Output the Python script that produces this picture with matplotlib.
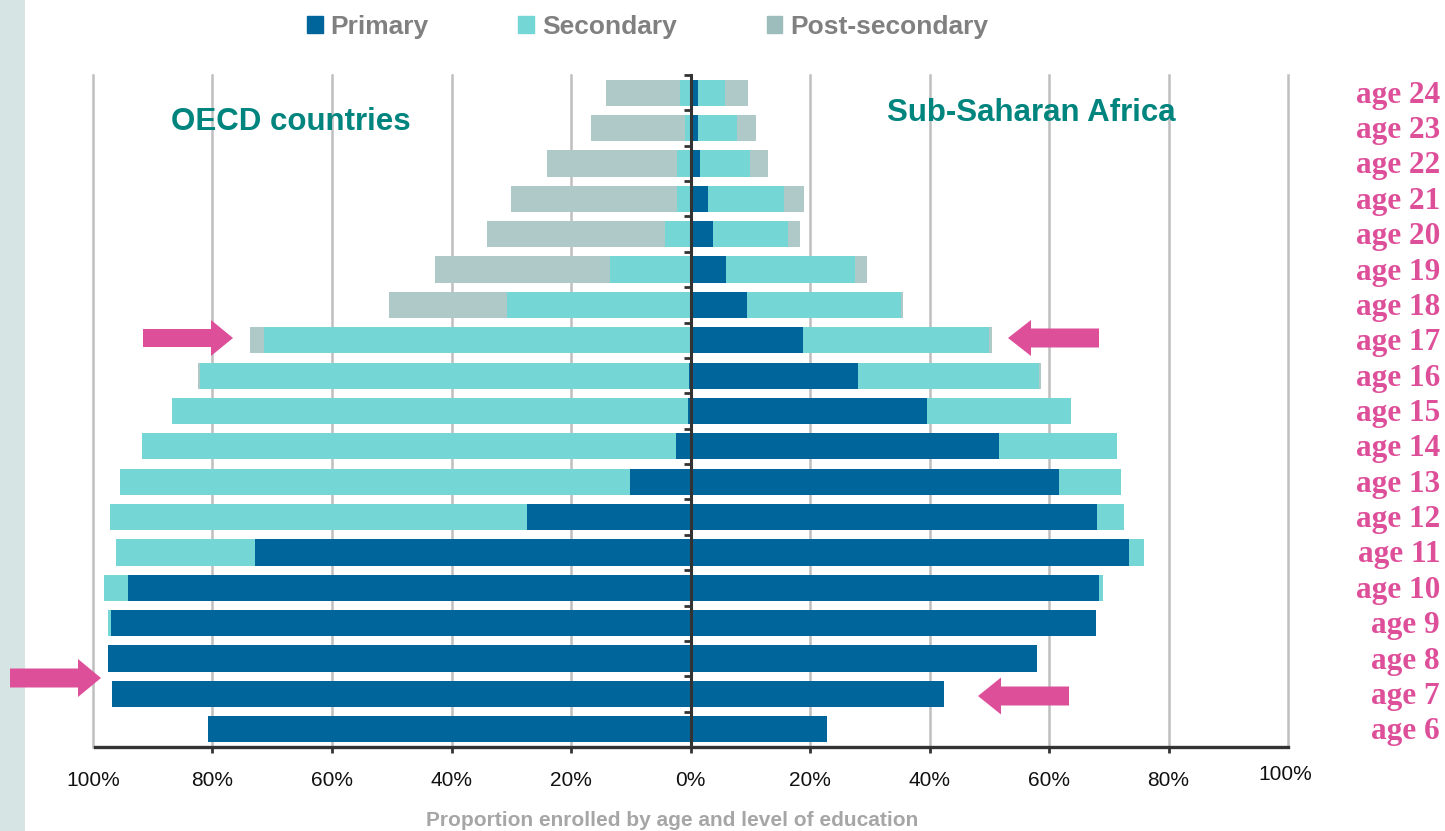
import matplotlib
matplotlib.use("Agg")
import matplotlib.pyplot as plt
import numpy as np
from matplotlib.patches import Polygon, Rectangle
from matplotlib.transforms import blended_transform_factory, ScaledTranslation

# ---------------- data (age 6 .. age 24) ----------------
ages = [f"age {a}" for a in range(6, 25)]

oecd_primary = [80.7, 96.8, 97.5, 97.0, 94.1, 72.9, 27.3, 10.2, 2.5, 0.4, 0.2,
                0.0, 0.0, 0.0, 0.0, 0.0, 0.0, 0.0, 0.0]
oecd_secondary = [0.0, 0.0, 0.0, 0.5, 4.1, 23.3, 69.9, 85.3, 89.3, 86.4, 81.9,
                  71.4, 30.7, 13.4, 4.2, 2.3, 2.3, 0.9, 1.8]
oecd_post = [0.0, 0.0, 0.0, 0.0, 0.0, 0.0, 0.0, 0.0, 0.0, 0.0, 0.3,
             2.3, 19.8, 29.3, 29.8, 27.7, 21.7, 15.7, 12.4]

ssa_primary = [22.9, 42.5, 58.0, 67.8, 68.3, 73.4, 68.0, 61.6, 51.6, 39.5, 28.0,
               18.9, 9.5, 5.9, 3.7, 2.9, 1.6, 1.3, 1.3]
ssa_secondary = [0.0, 0.0, 0.0, 0.0, 0.7, 2.5, 4.5, 10.4, 19.8, 24.2, 30.3,
                 31.0, 25.7, 21.7, 12.6, 12.8, 8.4, 6.4, 4.4]
ssa_post = [0.0, 0.0, 0.0, 0.0, 0.0, 0.0, 0.0, 0.0, 0.0, 0.0, 0.3,
            0.5, 0.3, 1.9, 2.0, 3.3, 3.0, 3.2, 4.0]

series_names = ["Primary", "Secondary", "Post-secondary"]
x_ticks = [-100, -80, -60, -40, -20, 0, 20, 40, 60, 80, 100]

# ---------------- styling ----------------
C_PRIM = "#00659A"
C_SEC = "#75D6D6"
C_POST = "#AFC8C8"
C_POST_LEG = "#9DBCBC"
PINK = "#DE4F9A"
TEAL = "#00847E"
DARK = "#333333"
GRID = "#BFBFBF"

plt.rcParams["font.family"] = ["Liberation Sans", "DejaVu Sans"]

W, H = 1445, 831
fig = plt.figure(figsize=(W / 100, H / 100), dpi=100)


def rect(x0, y0, x1, y1):
    return [x0 / W, 1 - y1 / H, (x1 - x0) / W, (y1 - y0) / H]


ax = fig.add_axes(rect(93, 75, 1288, 747))
y = np.arange(len(ages))
bh = 0.74

op = np.array(oecd_primary)
os_ = np.array(oecd_secondary)
opost = np.array(oecd_post)
sp = np.array(ssa_primary)
ss = np.array(ssa_secondary)
spost = np.array(ssa_post)

# left side (OECD), drawn as negative values
ax.barh(y, -op, height=bh, color=C_PRIM, zorder=2)
ax.barh(y, -os_, left=-op, height=bh, color=C_SEC, zorder=2)
ax.barh(y, -opost, left=-(op + os_), height=bh, color=C_POST, zorder=2)
# right side (Sub-Saharan Africa)
ax.barh(y, sp, height=bh, color=C_PRIM, zorder=2)
ax.barh(y, ss, left=sp, height=bh, color=C_SEC, zorder=2)
ax.barh(y, spost, left=sp + ss, height=bh, color=C_POST, zorder=2)

for v in x_ticks:
    if v != 0:
        ax.axvline(v, color=GRID, lw=1.8, zorder=0, clip_on=False)

ax.set_xlim(-100, 100)
ax.set_ylim(-0.5, len(ages) - 0.5)

for s in ["top", "right"]:
    ax.spines[s].set_visible(False)
ax.spines["left"].set_position(("data", 0))
ax.spines["left"].set_color(DARK)
ax.spines["left"].set_linewidth(2.2)
ax.spines["left"].set_zorder(5)
ax.spines["bottom"].set_color(DARK)
ax.spines["bottom"].set_linewidth(2.4)
ax.spines["bottom"].set_zorder(5)
ax.spines["bottom"].set_bounds(-99.7, 100)

ax.set_yticks(np.arange(-0.5, len(ages), 1.0))
ax.set_yticklabels([])
ax.tick_params(axis="y", direction="out", length=5, width=2.0, color=DARK)

ax.set_xticks(x_ticks)
labels = [f"{abs(v)}%" for v in x_ticks]
labels[-1] = ""
ax.set_xticklabels(labels)
ax.tick_params(axis="x", direction="out", length=4, width=2.0, color=DARK,
               pad=13.5, labelsize=15, labelcolor="#111111")
for t, v in zip(ax.xaxis.get_major_ticks(), x_ticks):
    if abs(v) == 100:
        t.tick1line.set_visible(False)
# right-most 100% label sits slightly higher in the original
ax.text(100, 0, "100%", transform=blended_transform_factory(ax.transData, ax.transAxes)
        + ScaledTranslation(-3 / 100, -27 / 100, fig.dpi_scale_trans),
        ha="center", va="center", fontsize=15, color="#111111")

# age labels at right
trans = blended_transform_factory(fig.transFigure, ax.transData) + \
    ScaledTranslation(0, -2.5 / 100, fig.dpi_scale_trans)
for i, lab in enumerate(ages):
    ax.text(1440 / W, i, lab, transform=trans, ha="right", va="center",
            fontsize=22.5, fontweight="bold", family=["Liberation Serif", "DejaVu Serif"],
            color=PINK, clip_on=False)

# panel titles
fig.text(291 / W, 1 - 122 / H, "OECD countries", ha="center", va="center",
         fontsize=22.5, fontweight="bold", color=TEAL)
fig.text(1031 / W, 1 - 113 / H, "Sub-Saharan Africa", ha="center", va="center",
         fontsize=22.5, fontweight="bold", color=TEAL)

# x-axis caption
fig.text(672 / W, 1 - 820 / H, "Proportion enrolled by age and level of education",
         ha="center", va="center", fontsize=15, fontweight="bold", color="#A6A6A6")

# legend
handles = [Rectangle((0, 0), 1, 1, color=c) for c in (C_PRIM, C_SEC, C_POST_LEG)]
fig.legend(handles, series_names, loc="center", bbox_to_anchor=(647.5 / W, 1 - 27 / H),
           ncol=3, frameon=False, prop=dict(weight="bold", size=19),
           labelcolor="#808080", handlelength=0.6, handleheight=0.6,
           handletextpad=0.3, columnspacing=3.4, borderpad=0, borderaxespad=0)

# overlay for decorations (left strip, highlight arrows)
ov = fig.add_axes([0, 0, 1, 1])
ov.set_xlim(0, W)
ov.set_ylim(H, 0)
ov.axis("off")
ov.patch.set_alpha(0)
ov.add_patch(Rectangle((0, 0), 25, H, color="#D6E4E4", lw=0))


def arrow(tip_x, tip_y, base_x, tail_x, body_half, head_half):
    pts = [(tail_x, tip_y - body_half), (base_x, tip_y - body_half),
           (base_x, tip_y - head_half), (tip_x, tip_y),
           (base_x, tip_y + head_half), (base_x, tip_y + body_half),
           (tail_x, tip_y + body_half)]
    ov.add_patch(Polygon(pts, closed=True, color=PINK, lw=0))


arrow(233, 338, 211, 143, 9, 18)
arrow(101, 678, 78, 10, 9.5, 19)
arrow(1008, 338, 1031, 1099, 9.5, 18)
arrow(978, 696, 1001, 1069, 9.5, 18.5)

fig.savefig("out.png", dpi=100)
